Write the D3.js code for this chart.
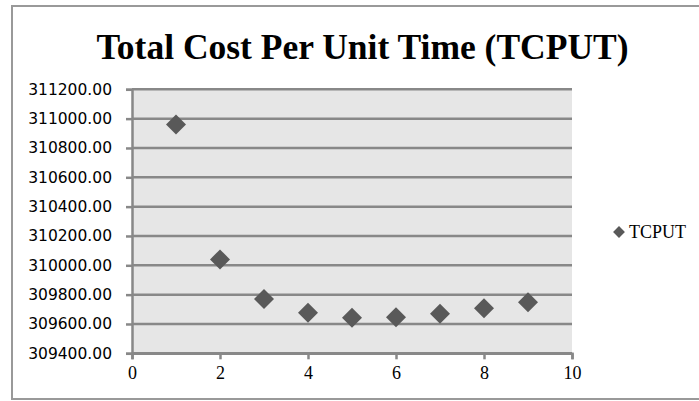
<!DOCTYPE html>
<html><head><meta charset="utf-8">
<script src="https://cdn.jsdelivr.net/npm/d3@7"></script>
<style>body{margin:0;background:#fff}svg{display:block}</style>
</head><body>
<svg id="c" width="699" height="401"></svg>
<script>
const xValues = [1, 2, 3, 4, 5, 6, 7, 8, 9];
const tcput = [310960, 310040, 309770, 309677, 309643, 309645, 309670, 309707, 309748];
const yTicks = [309400, 309600, 309800, 310000, 310200, 310400, 310600, 310800, 311000, 311200];
const xTicks = [0, 2, 4, 6, 8, 10];
const seriesName = "TCPUT";
const title = "Total Cost Per Unit Time (TCPUT)";

const svg = d3.select("#c");
const L = 132, R = 572, T = 89.3, B = 353.3;
const x = d3.scaleLinear().domain([0, 10]).range([L, R]);
const y = d3.scaleLinear().domain([309400, 311200]).range([B, T]);

// outer border
svg.append("rect").attr("x", 12).attr("y", 6).attr("width", 700).attr("height", 393)
  .attr("fill", "#fff").attr("stroke", "#999").attr("stroke-width", 2);

// plot bg
svg.append("rect").attr("x", L).attr("y", T).attr("width", R - L).attr("height", B - T).attr("fill", "#e6e6e6");

// gridlines
svg.append("g").selectAll("line").data(yTicks).join("line")
  .attr("x1", L).attr("x2", R).attr("y1", d => y(d)).attr("y2", d => y(d))
  .attr("stroke", "#888").attr("stroke-width", 2.5);

// y axis
const ya = svg.append("g").attr("transform", `translate(${L},0)`)
  .call(d3.axisLeft(y).tickValues(yTicks).tickFormat(d3.format(".2f")).tickSize(6).tickPadding(14));
ya.select(".domain").attr("stroke", "#888").attr("stroke-width", 2.5);
ya.selectAll(".tick line").attr("stroke", "#888").attr("stroke-width", 2.5);
ya.selectAll("text").attr("font-family", "'DejaVu Sans', sans-serif").attr("font-size", 15.5).attr("fill", "#000");

// x axis
const xa = svg.append("g").attr("transform", `translate(0,${B})`)
  .call(d3.axisBottom(x).tickValues(xTicks).tickFormat(d3.format("d")).tickSize(6).tickPadding(7));
xa.select(".domain").attr("stroke", "#888").attr("stroke-width", 2.5);
xa.selectAll(".tick line").attr("stroke", "#888").attr("stroke-width", 2.5);
xa.selectAll("text").attr("font-family", "'Liberation Serif', serif").attr("font-size", 18).attr("fill", "#000");

// points
const diamond = d3.symbol().type(d3.symbolSquare).size(200);
svg.append("g").selectAll("path").data(xValues).join("path")
  .attr("d", diamond)
  .attr("transform", (d, i) => `translate(${x(d)},${y(tcput[i])}) rotate(45)`)
  .attr("fill", "#595959");

// legend
svg.append("path").attr("d", d3.symbol().type(d3.symbolSquare).size(70))
  .attr("transform", "translate(619,232) rotate(45)").attr("fill", "#595959");
svg.append("text").attr("x", 629).attr("y", 238).text(seriesName)
  .attr("font-family", "'Liberation Serif', serif").attr("font-size", 18).attr("fill", "#000");

// title
svg.append("text").attr("x", 362.5).attr("y", 59).attr("text-anchor", "middle").text(title)
  .attr("font-family", "'Liberation Serif', serif").attr("font-weight", "bold").attr("font-size", 35.5).attr("fill", "#000");
</script>
</body></html>
